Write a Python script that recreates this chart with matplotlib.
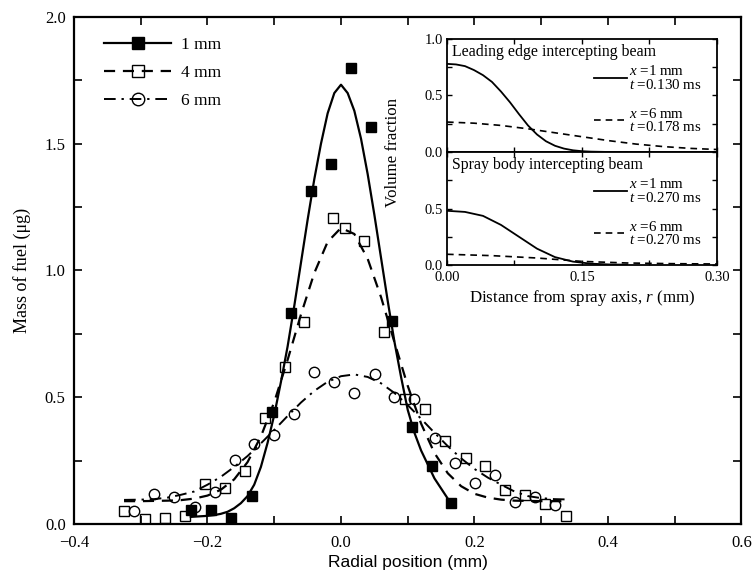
import matplotlib
matplotlib.use("Agg")
import matplotlib.pyplot as plt
from matplotlib.lines import Line2D
from matplotlib.ticker import MultipleLocator

SERIF = ["Liberation Serif", "DejaVu Serif"]
SANS = ["Liberation Sans", "DejaVu Sans"]
plt.rcParams["font.family"] = SERIF
plt.rcParams["mathtext.fontset"] = "custom"
plt.rcParams["mathtext.it"] = "Liberation Serif:italic"
plt.rcParams["mathtext.rm"] = "Liberation Serif"

# ---------------- main chart data ----------------
labels = ["1 mm", "4 mm", "6 mm"]

x_1mm = [-0.224, -0.195, -0.165, -0.134, -0.104, -0.075, -0.045, -0.015, 0.015,
         0.045, 0.076, 0.106, 0.136, 0.165]
y_1mm = [0.055, 0.055, 0.024, 0.11, 0.443, 0.831, 1.315, 1.422, 1.80,
         1.565, 0.80, 0.384, 0.23, 0.082]

x_4mm = [-0.325, -0.294, -0.264, -0.234, -0.204, -0.174, -0.144, -0.114, -0.084,
         -0.055, -0.012, 0.006, 0.035, 0.064, 0.096, 0.126, 0.156, 0.187, 0.216,
         0.246, 0.276, 0.306, 0.337]
y_4mm = [0.053, 0.02, 0.025, 0.032, 0.158, 0.143, 0.21, 0.417, 0.62,
         0.798, 1.208, 1.169, 1.118, 0.759, 0.492, 0.452, 0.327, 0.262, 0.229,
         0.134, 0.114, 0.079, 0.032]

x_6mm = [-0.310, -0.280, -0.250, -0.219, -0.189, -0.159, -0.130, -0.100, -0.070,
         -0.040, -0.010, 0.020, 0.051, 0.079, 0.109, 0.141, 0.171, 0.201, 0.231,
         0.261, 0.291, 0.321]
y_6mm = [0.053, 0.117, 0.108, 0.068, 0.125, 0.252, 0.316, 0.351, 0.434,
         0.598, 0.561, 0.518, 0.592, 0.50, 0.493, 0.338, 0.242, 0.16, 0.193,
         0.086, 0.108, 0.075]

# fitted curves
fx_1mm = [-0.225, -0.20, -0.19, -0.18, -0.17, -0.16, -0.15, -0.14, -0.13, -0.12,
          -0.11, -0.10, -0.09, -0.08, -0.07, -0.06, -0.05, -0.04, -0.03, -0.02,
          -0.01, 0.00, 0.01, 0.02, 0.03, 0.04, 0.05, 0.06, 0.07, 0.08, 0.09,
          0.10, 0.11, 0.12, 0.13, 0.14, 0.15, 0.16, 0.165]
fy_1mm = [0.028, 0.032, 0.035, 0.040, 0.048, 0.062, 0.082, 0.11, 0.155, 0.225,
          0.32, 0.43, 0.56, 0.70, 0.86, 1.03, 1.20, 1.36, 1.50, 1.62,
          1.70, 1.733, 1.70, 1.63, 1.52, 1.38, 1.22, 1.05, 0.88, 0.72, 0.58,
          0.45, 0.36, 0.29, 0.235, 0.18, 0.14, 0.10, 0.085]

fx_4mm = [-0.325, -0.30, -0.28, -0.26, -0.24, -0.22, -0.20, -0.18, -0.16, -0.14,
          -0.12, -0.10, -0.08, -0.06, -0.04, -0.02, 0.00, 0.02, 0.04, 0.06,
          0.08, 0.10, 0.12, 0.14, 0.16, 0.18, 0.20, 0.22, 0.24, 0.26, 0.28,
          0.30, 0.32, 0.335]
fy_4mm = [0.09, 0.09, 0.091, 0.092, 0.094, 0.100, 0.112, 0.135, 0.176, 0.244,
          0.345, 0.481, 0.647, 0.826, 0.990, 1.113, 1.168, 1.144, 1.046, 0.895,
          0.718, 0.545, 0.396, 0.280, 0.200, 0.149, 0.119, 0.104, 0.096, 0.092, 0.091,
          0.09, 0.09, 0.09]

fx_6mm = [-0.325, -0.30, -0.28, -0.26, -0.24, -0.22, -0.20, -0.18, -0.16, -0.14,
          -0.12, -0.10, -0.08, -0.06, -0.04, -0.02, 0.00, 0.02, 0.04, 0.06,
          0.08, 0.10, 0.12, 0.14, 0.16, 0.18, 0.20, 0.22, 0.24, 0.26, 0.28,
          0.30, 0.32, 0.335]
fy_6mm = [0.095, 0.096, 0.098, 0.104, 0.115, 0.128, 0.155, 0.186, 0.225, 0.268,
          0.318, 0.371, 0.426, 0.479, 0.525, 0.561, 0.583, 0.590, 0.580, 0.555,
          0.517, 0.469, 0.415, 0.360, 0.307, 0.259, 0.217, 0.183, 0.155, 0.128, 0.110,
          0.102, 0.098, 0.097]

# ---------------- inset data ----------------
r_top_solid = [0.0, 0.01, 0.02, 0.03, 0.04, 0.05, 0.06, 0.07, 0.08, 0.09, 0.10,
               0.11, 0.12, 0.13, 0.14, 0.15, 0.16, 0.18, 0.20]
v_top_solid = [0.78, 0.775, 0.76, 0.725, 0.68, 0.62, 0.535, 0.44, 0.335, 0.235, 0.155,
               0.095, 0.055, 0.03, 0.015, 0.007, 0.003, 0.0, 0.0]
r_top_dash = [0.0, 0.03, 0.06, 0.09, 0.12, 0.15, 0.18, 0.21, 0.24, 0.27, 0.30]
v_top_dash = [0.265, 0.255, 0.235, 0.205, 0.17, 0.135, 0.10, 0.07, 0.048, 0.032, 0.022]

r_bot_solid = [0.0, 0.02, 0.04, 0.06, 0.08, 0.10, 0.12, 0.14, 0.16, 0.18, 0.20]
v_bot_solid = [0.48, 0.47, 0.435, 0.355, 0.25, 0.145, 0.07, 0.03, 0.012, 0.005, 0.003]
r_bot_dash = [0.0, 0.05, 0.10, 0.15, 0.20, 0.25, 0.30]
v_bot_dash = [0.095, 0.083, 0.062, 0.032, 0.018, 0.012, 0.009]

top_title = "Leading edge intercepting beam"
bot_title = "Spray body intercepting beam"
top_legend = [r"$x$ =1 mm" + "\n" + r"$t$ =0.130 ms", r"$x$ =6 mm" + "\n" + r"$t$ =0.178 ms"]
bot_legend = [r"$x$ =1 mm" + "\n" + r"$t$ =0.270 ms", r"$x$ =6 mm" + "\n" + r"$t$ =0.270 ms"]

# ---------------- figure ----------------
fig = plt.figure(figsize=(7.52, 5.77), dpi=100)
ax = fig.add_axes([0.0984, 0.0919, 0.8876, 0.8786])

ax.plot(fx_1mm, fy_1mm, color="k", lw=1.6, ls="-")
ax.plot(fx_4mm, fy_4mm, color="k", lw=1.6, ls=(0, (5, 3.5)))
ax.plot(fx_6mm, fy_6mm, color="k", lw=1.4, ls=(0, (6, 3, 1.2, 3)))

ax.plot(x_1mm, y_1mm, ls="none", marker="s", ms=6.5, mfc="k", mec="k")
ax.plot(x_4mm, y_4mm, ls="none", marker="s", ms=6.5, mfc="none", mec="k", mew=1.0)
ax.plot(x_6mm, y_6mm, ls="none", marker="o", ms=7.5, mfc="none", mec="k", mew=1.0)

ax.set_xlim(-0.4, 0.6)
ax.set_ylim(0.0, 2.0)
ax.xaxis.set_major_locator(MultipleLocator(0.2))
ax.xaxis.set_minor_locator(MultipleLocator(0.1))
ax.yaxis.set_major_locator(MultipleLocator(0.5))
ax.yaxis.set_minor_locator(MultipleLocator(0.25))
ax.xaxis.set_major_formatter(plt.FuncFormatter(lambda v, p: ("%.1f" % v).replace("-", "\u2212")))
ax.yaxis.set_major_formatter(plt.FuncFormatter(lambda v, p: "%.1f" % v))
ax.tick_params(which="both", direction="in", top=True, right=True, labelsize=12, width=1.2)
ax.tick_params(which="major", length=6)
ax.tick_params(which="minor", length=6)
ax.tick_params(axis="x", which="major", pad=8)
ax.tick_params(axis="y", which="major", pad=6)
for s in ax.spines.values():
    s.set_linewidth(1.6)

ax.set_xlabel("Radial position (mm)", family=SANS, fontsize=12.5, labelpad=3)
ax.set_ylabel("Mass of fuel (\u03bcg)", fontsize=13, labelpad=10)

handles = [
    Line2D([], [], color="k", lw=1.6, ls="-", marker="s", ms=8, mfc="k", mec="k"),
    Line2D([], [], color="k", lw=1.6, ls=(0, (5, 3.5)), marker="s", ms=8, mfc="none", mec="k"),
    Line2D([], [], color="k", lw=1.4, ls=(0, (6, 3, 1.2, 3)), marker="o", ms=9, mfc="none", mec="k"),
]
ax.legend(handles, labels, loc="upper left", frameon=False, fontsize=12.5,
          handlelength=3.85, handletextpad=0.55, labelspacing=0.7,
          bbox_to_anchor=(0.022, 0.992))

# ---------------- inset ----------------
axt = fig.add_axes([0.5944, 0.7366, 0.359, 0.1958])
axb = fig.add_axes([0.5944, 0.5407, 0.359, 0.1958], sharex=axt)

axt.plot(r_top_solid, v_top_solid, color="k", lw=1.3)
axt.plot(r_top_dash, v_top_dash, color="k", lw=1.2, ls=(0, (4, 3)))
axb.plot(r_bot_solid, v_bot_solid, color="k", lw=1.3)
axb.plot(r_bot_dash, v_bot_dash, color="k", lw=1.2, ls=(0, (4, 3)))

for a, ttl, leg in ((axt, top_title, top_legend), (axb, bot_title, bot_legend)):
    a.set_xlim(0.0, 0.30)
    a.set_ylim(0.0, 1.0)
    a.xaxis.set_major_locator(MultipleLocator(0.15))
    a.xaxis.set_minor_locator(MultipleLocator(0.075))
    a.yaxis.set_major_locator(MultipleLocator(0.5))
    a.yaxis.set_minor_locator(MultipleLocator(0.25))
    a.tick_params(which="both", direction="in", top=True, right=True, labelsize=10.5,
                  length=3.5, width=1.0)
    a.tick_params(axis="y", pad=3)
    a.tick_params(axis="x", pad=4)
    for s in a.spines.values():
        s.set_linewidth(1.3)
    a.text(0.02, 0.96, ttl, transform=a.transAxes, ha="left", va="top", fontsize=11.4)
    a.add_line(Line2D([0.545, 0.665], [0.655, 0.655], transform=a.transAxes, color="k", lw=1.3))
    a.add_line(Line2D([0.545, 0.665], [0.28, 0.28], transform=a.transAxes, color="k", lw=1.2,
                      ls=(0, (4, 3))))
    a.text(0.675, 0.655, leg[0], transform=a.transAxes, ha="left", va="center", fontsize=10.8,
           linespacing=0.95)
    a.text(0.675, 0.28, leg[1], transform=a.transAxes, ha="left", va="center", fontsize=10.8,
           linespacing=0.95)

axt.yaxis.set_major_formatter(plt.FuncFormatter(lambda v, p: "%.1f" % v))
axb.yaxis.set_major_formatter(plt.FuncFormatter(lambda v, p: "" if v > 0.9 else "%.1f" % v))
axt.tick_params(labelbottom=False)
axb.xaxis.set_major_formatter(plt.FuncFormatter(lambda v, p: "%.2f" % v))
axb.set_xlabel(r"Distance from spray axis, $r$ (mm)", fontsize=12.2, labelpad=3)
fig.text(0.522, 0.7366, "Volume fraction", rotation=90, ha="center", va="center", fontsize=12.2)

fig.savefig("out.png", dpi=100)
